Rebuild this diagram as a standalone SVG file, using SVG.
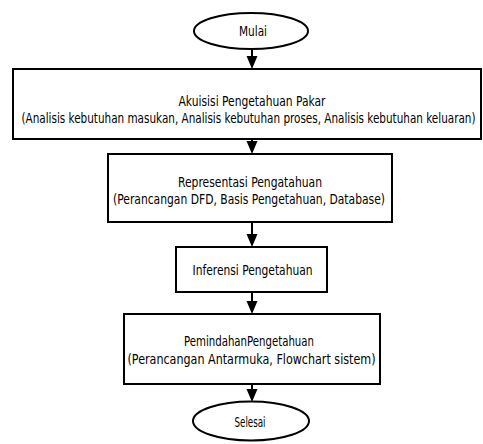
<svg xmlns="http://www.w3.org/2000/svg" width="483" height="444" viewBox="0 0 483 444">
<defs>
<style>
.shape{fill:#fff;stroke:#000;stroke-width:2}
.t{font-family:"DejaVu Sans Condensed","DejaVu Sans",sans-serif;font-size:14px;fill:#000;text-anchor:middle}
.c{stroke:#000;stroke-width:2;fill:none}
.h{fill:#000}
</style>
</defs>
<rect width="483" height="444" fill="#fff"/>
<g id="connectors">
<line class="c" x1="252" y1="49" x2="252" y2="57"/>
<path class="h" d="M246.5,56 L257.5,56 L252,69 Z"/>
<line class="c" x1="252" y1="139" x2="252" y2="142"/>
<path class="h" d="M246.5,141 L257.5,141 L252,154 Z"/>
<line class="c" x1="252" y1="222" x2="252" y2="235"/>
<path class="h" d="M246.5,234 L257.5,234 L252,247 Z"/>
<line class="c" x1="252" y1="292" x2="252" y2="302"/>
<path class="h" d="M246.5,301 L257.5,301 L252,314 Z"/>
<line class="c" x1="252" y1="384" x2="252" y2="390"/>
<path class="h" d="M246.5,389 L257.5,389 L252,402 Z"/>
</g>
<g id="mulai">
<ellipse class="shape" cx="251" cy="31" rx="57" ry="18"/>
<text class="t" transform="translate(253,36) scale(0.8,1)" textLength="35" lengthAdjust="spacingAndGlyphs">Mulai</text>
</g>
<g id="akuisisi">
<rect class="shape" x="13" y="69" width="468" height="70"/>
<text class="t" transform="translate(252,106) scale(0.8,1)" textLength="183.75" lengthAdjust="spacingAndGlyphs">Akuisisi Pengetahuan Pakar</text>
<text class="t" transform="translate(248.5,123) scale(0.8,1)" textLength="567.5" lengthAdjust="spacingAndGlyphs">(Analisis kebutuhan masukan, Analisis kebutuhan proses, Analisis kebutuhan keluaran)</text>
</g>
<g id="representasi">
<rect class="shape" x="108" y="154" width="284" height="68"/>
<text class="t" transform="translate(250,187) scale(0.8,1)" textLength="180" lengthAdjust="spacingAndGlyphs">Representasi Pengatahuan</text>
<text class="t" transform="translate(249,204) scale(0.8,1)" textLength="340" lengthAdjust="spacingAndGlyphs">(Perancangan DFD, Basis Pengetahuan, Database)</text>
</g>
<g id="inferensi">
<rect class="shape" x="176" y="247" width="151" height="45"/>
<text class="t" transform="translate(252.5,275) scale(0.8,1)" textLength="150" lengthAdjust="spacingAndGlyphs">Inferensi Pengetahuan</text>
</g>
<g id="pemindahan">
<rect class="shape" x="124" y="314" width="256" height="70"/>
<text class="t" transform="translate(249,346) scale(0.8,1)" textLength="162.5" lengthAdjust="spacingAndGlyphs">PemindahanPengetahuan</text>
<text class="t" transform="translate(251.5,364) scale(0.8,1)" textLength="310" lengthAdjust="spacingAndGlyphs">(Perancangan Antarmuka, Flowchart sistem)</text>
</g>
<g id="selesai">
<ellipse class="shape" cx="251" cy="421" rx="58" ry="19.5"/>
<text class="t" transform="translate(250,427) scale(0.8,1)" textLength="38.75" lengthAdjust="spacingAndGlyphs">Selesai</text>
</g>
</svg>
